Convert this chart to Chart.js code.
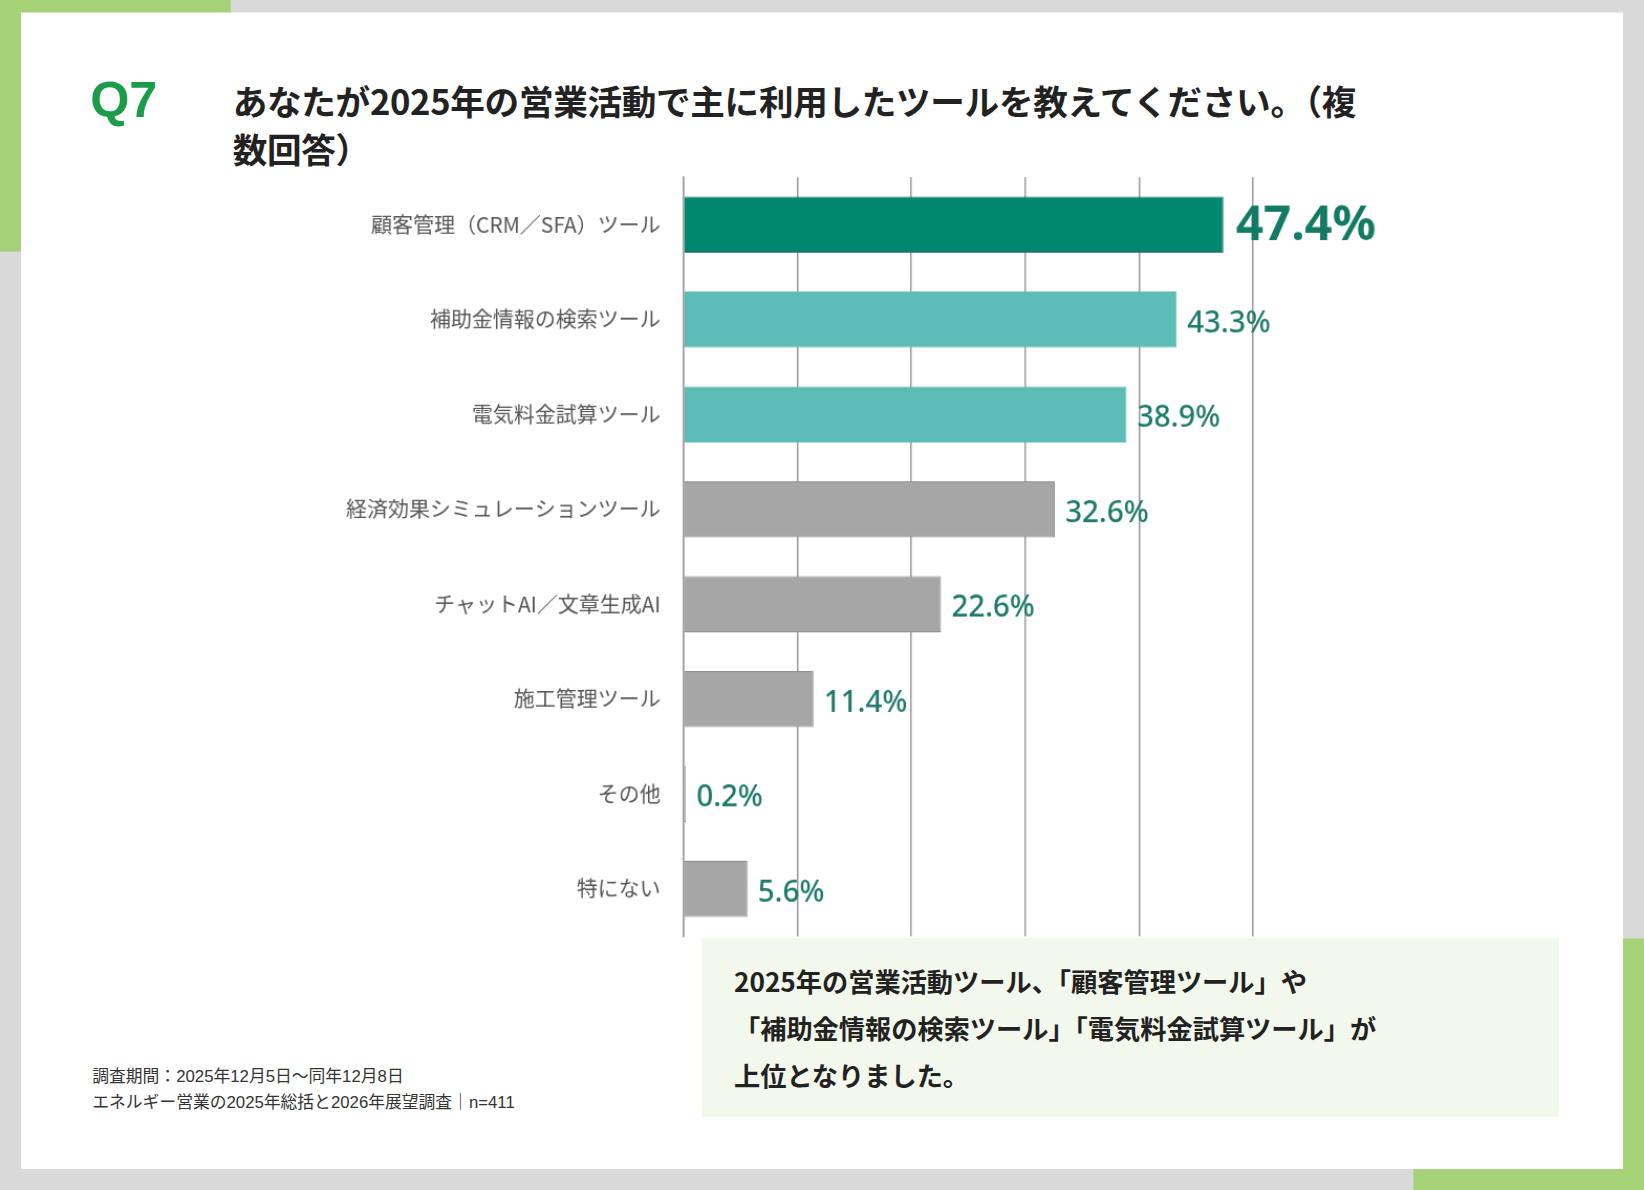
<!DOCTYPE html>
<html><head><meta charset="utf-8">
<script src="https://cdn.jsdelivr.net/npm/chart.js@4"></script>
<style>
body{margin:0;background:#d9d9d9;width:1644px;height:1190px;overflow:hidden;font-family:"Noto Sans CJK JP","Noto Sans",sans-serif}
#page{position:absolute;left:0;top:0;width:1568px;height:1135px;transform:scale(1.0485);transform-origin:0 0}
.abs{position:absolute}
</style></head><body>
<div id="page">
  <div class="abs" style="left:0;top:0;width:220px;height:12px;background:#a5d276"></div>
  <div class="abs" style="left:0;top:0;width:20px;height:240px;background:#a5d276"></div>
  <div class="abs" style="left:20px;top:12px;width:1528px;height:1103px;background:#fff"></div>
  <div class="abs" style="left:1348px;top:1115px;width:220px;height:20px;background:#a5d276"></div>
  <div class="abs" style="left:1548px;top:895px;width:20px;height:240px;background:#a5d276"></div>
  <div class="abs" style="left:86px;top:68px;font:bold 48px Arial,'Liberation Sans',sans-serif;color:#1a9c4b">Q7</div>
  <div class="abs" style="left:222px;top:74px;width:1170px;font-weight:bold;font-size:33px;line-height:45px;color:#222;letter-spacing:-0.3px">あなたが2025年の営業活動で主に利用したツールを教えてください。（複<br>数回答）</div>
  <canvas id="c" class="abs" width="1200" height="776" style="left:260px;top:143px"></canvas>
  <div class="abs" style="left:670px;top:895px;width:817px;height:170px;background:#f2f8ec"></div>
  <div class="abs" style="left:700px;top:913px;font-weight:bold;font-size:25px;line-height:45px;color:#222">2025年の営業活動ツール、「顧客管理ツール」や<br>「補助金情報の検索ツール」「電気料金試算ツール」が<br>上位となりました。</div>
  <div class="abs" style="left:88px;top:1014px;font-size:16px;line-height:25px;color:#333;font-family:'Liberation Sans','Noto Sans CJK JP',sans-serif">調査期間：2025年12月5日～同年12月8日<br>エネルギー営業の2025年総括と2026年展望調査｜n=411</div>
</div>
<script>
const categories = ['顧客管理（CRM／SFA）ツール','補助金情報の検索ツール','電気料金試算ツール','経済効果シミュレーションツール','チャットAI／文章生成AI','施工管理ツール','その他','特にない'];
const values = [47.4, 43.3, 38.9, 32.6, 22.6, 11.4, 0.2, 5.6];
const barColors = ['#00876f','#5dbdb5','#5dbdb5','#a6a6a6','#a6a6a6','#a6a6a6','#a6a6a6','#a6a6a6'];

const valueLabels = {
  id: 'valueLabels',
  afterDatasetsDraw(chart) {
    const ctx = chart.ctx;
    chart.getDatasetMeta(0).data.forEach((bar, i) => {
      ctx.save();
      ctx.fillStyle = i === 0 ? '#137a63' : '#1d7a6b';
      ctx.font = i === 0 ? 'bold 46px "Noto Sans","Open Sans",sans-serif' : '500 28px "Noto Sans","Open Sans",sans-serif';
      ctx.textBaseline = 'middle';
      ctx.fillText(values[i].toFixed(1) + '%', bar.x + (i === 0 ? 12 : 10), bar.y + (i === 0 ? 2 : 4));
      ctx.restore();
    });
  }
};

new Chart(document.getElementById('c'), {
  type: 'bar',
  data: {
    labels: categories,
    datasets: [{
      data: values,
      backgroundColor: barColors,
      borderColor: barColors.map((c, i) => i === 0 ? '#1f5c50' : (i < 3 ? '#5dbdb5' : '#8c8c8c')),
      borderWidth: 1,
      categoryPercentage: 1,
      barPercentage: 0.59
    }]
  },
  options: {
    indexAxis: 'y',
    responsive: false,
    animation: false,
    layout: { padding: { top: 6, bottom: 15, right: 265 } },
    scales: {
      x: {
        min: 0, max: 50,
        ticks: { stepSize: 10, display: false },
        grid: { color: '#9a9a9a', lineWidth: 1.5, drawTicks: false },
        border: { display: false }
      },
      y: {
        afterFit: s => { s.width = 392; },
        grid: { display: false },
        border: { color: '#9a9a9a', width: 1.5 },
        ticks: { color: '#555', padding: 14, font: { size: 20, family: '"Noto Sans CJK JP"' } }
      }
    },
    plugins: { legend: { display: false }, tooltip: { enabled: false } }
  },
  plugins: [valueLabels]
});
</script>
</body></html>
